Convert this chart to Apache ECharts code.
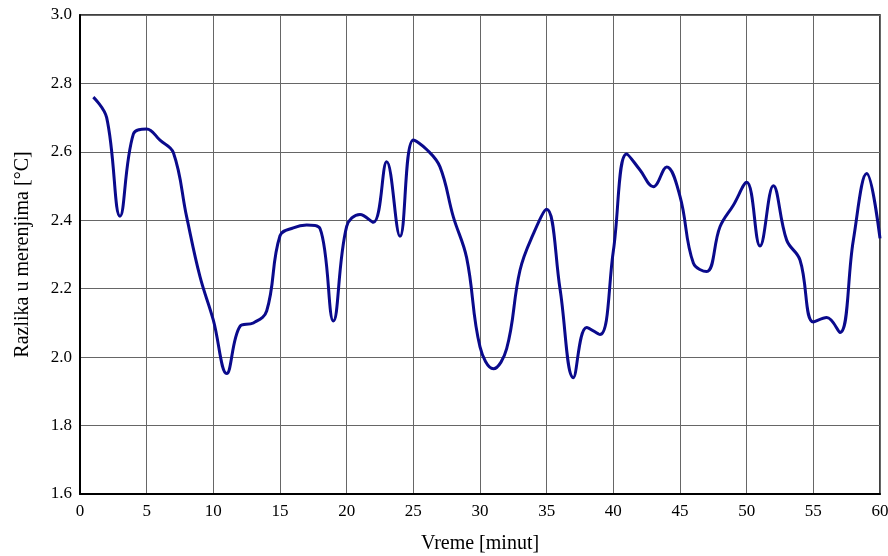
<!DOCTYPE html>
<html>
<head>
<meta charset="utf-8">
<script src="https://cdn.jsdelivr.net/npm/echarts@6/dist/echarts.min.js"></script>
<style>html,body{margin:0;padding:0;background:#fff}#c{width:888px;height:556px}</style>
</head>
<body>
<div id="c"></div>
<script>
const minutes = [1,2,3,4,5,6,7,8,9,10,11,12,13,14,15,16,17,18,19,20,21,22,23,24,25,26,27,28,29,30,31,32,33,34,35,36,37,38,39,40,41,42,43,44,45,46,47,48,49,50,51,52,53,54,55,56,57,58,59,60];
const razlika = [2.76,2.70,2.412,2.652,2.667,2.634,2.598,2.41,2.235,2.108,1.952,2.09,2.10,2.135,2.355,2.378,2.386,2.376,2.106,2.382,2.417,2.394,2.571,2.353,2.635,2.607,2.556,2.41,2.29,2.03,1.966,2.025,2.254,2.36,2.432,2.2,1.94,2.087,2.066,2.31,2.594,2.547,2.498,2.556,2.47,2.275,2.25,2.381,2.444,2.511,2.325,2.501,2.342,2.284,2.103,2.116,2.072,2.342,2.537,2.347];
const xTicks = {min:0, max:60, interval:5};
const yTicks = {min:1.6, max:3.0, interval:0.2};

const chart = echarts.init(document.getElementById('c'));
const font = '"Liberation Serif", "Times New Roman", serif';
chart.setOption({
  animation:false,
  grid:{left:80, right:8, top:15, bottom:62, outerBoundsMode:'none', containLabel:false, show:true, borderColor:'#000', borderWidth:1.5, backgroundColor:'transparent'},
  xAxis:{
    type:'value', min:xTicks.min, max:xTicks.max, interval:xTicks.interval,
    name:'Vreme [minut]', nameLocation:'middle', nameGap:40,
    nameTextStyle:{fontFamily:font, fontSize:20, color:'#000'},
    axisLine:{show:true, lineStyle:{color:'#000', width:2}},
    axisTick:{show:false},
    axisLabel:{fontFamily:font, fontSize:17, color:'#000', margin:9},
    splitLine:{show:true, lineStyle:{color:'#666', width:1}}
  },
  yAxis:{
    type:'value', min:yTicks.min, max:yTicks.max, interval:yTicks.interval,
    name:'Razlika u merenjima [°C]', nameLocation:'middle', nameGap:47,
    nameTextStyle:{fontFamily:font, fontSize:20, color:'#000'},
    axisLine:{show:true, lineStyle:{color:'#000', width:2}},
    axisTick:{show:false},
    axisLabel:{fontFamily:font, fontSize:17, color:'#000', margin:8, formatter:v=>v.toFixed(1)},
    splitLine:{show:true, lineStyle:{color:'#666', width:1}}
  },
  series:[{
    type:'line', data:minutes.map((m,i)=>[m, razlika[i]]),
    smooth:0.4, showSymbol:false, symbol:'none',
    lineStyle:{color:'#0a0a8c', width:3}
  }]
});
</script>
</body>
</html>
